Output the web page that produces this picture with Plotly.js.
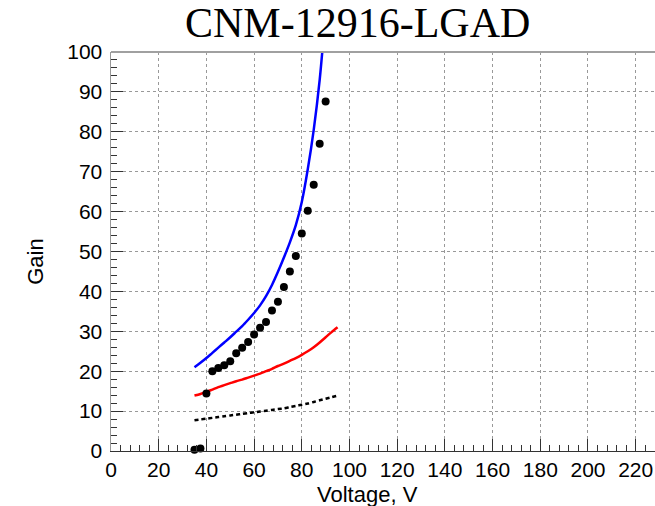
<!DOCTYPE html>
<html>
<head>
<meta charset="utf-8">
<script src="https://cdn.plot.ly/plotly-3.0.1.min.js"></script>
<style>html,body{margin:0;padding:0;background:#fff;}#chart{width:655px;height:506px;}</style>
</head>
<body>
<div id="chart"></div>
<script>
// Measured gain (black points)
const dataVoltage = [35, 37.5, 40, 42.5, 45, 47.5, 50, 52.5, 55, 57.5, 60, 62.5, 65, 67.5, 70, 72.5, 75, 77.5, 80, 82.5, 85, 87.5, 90];
const dataGain = [0.3, 0.6, 14.4, 20.0, 20.8, 21.5, 22.5, 24.5, 25.9, 27.3, 29.2, 30.9, 32.3, 35.2, 37.4, 41.1, 45.0, 48.9, 54.5, 60.2, 66.7, 77.0, 87.6];

// Blue curve
const blueVoltage = [35, 37.5, 40, 42.5, 45, 47.5, 50, 52.5, 55, 57.5, 60, 62.5, 65, 67.5, 70, 72.5, 75, 77.5, 80, 82.5, 85, 87.5, 90];
const blueGain = [21.0, 22.1, 23.3, 24.6, 25.9, 27.2, 28.5, 29.9, 31.3, 32.9, 34.6, 36.5, 38.8, 41.6, 44.9, 48.5, 52.3, 56.6, 62.4, 70.6, 80.5, 93.0, 110.0];

// Red curve
const redVoltage = [35, 37.5, 40, 42.5, 45, 47.5, 50, 52.5, 55, 57.5, 60, 62.5, 65, 67.5, 70, 72.5, 75, 77.5, 80, 82.5, 85, 87.5, 90, 92.5, 95];
const redGain = [13.9, 14.3, 14.8, 15.4, 16.0, 16.5, 17.0, 17.5, 17.9, 18.4, 18.9, 19.4, 20.0, 20.6, 21.3, 21.9, 22.6, 23.3, 24.1, 25.0, 26.0, 27.2, 28.5, 29.8, 31.0];

// Black dotted curve
const dotVoltage = [35, 37.5, 40, 42.5, 45, 47.5, 50, 52.5, 55, 57.5, 60, 62.5, 65, 67.5, 70, 72.5, 75, 77.5, 80, 82.5, 85, 87.5, 90, 92.5, 94.5];
const dotGain = [7.7, 7.9, 8.1, 8.3, 8.5, 8.7, 8.9, 9.1, 9.3, 9.5, 9.7, 9.9, 10.1, 10.3, 10.5, 10.7, 11.0, 11.3, 11.6, 11.9, 12.3, 12.7, 13.1, 13.5, 13.8];

const xTickVals = [0, 20, 40, 60, 80, 100, 120, 140, 160, 180, 200, 220];
const yTickVals = [0, 10, 20, 30, 40, 50, 60, 70, 80, 90, 100];

const traces = [
  {x: blueVoltage, y: blueGain, mode: 'lines', line: {color: '#0000ff', width: 2.5, shape: 'spline', smoothing: 0.8}, hoverinfo: 'skip'},
  {x: redVoltage, y: redGain, mode: 'lines', line: {color: '#ff0000', width: 2.5, shape: 'spline', smoothing: 0.8}, hoverinfo: 'skip'},
  {x: dotVoltage, y: dotGain, mode: 'lines', line: {color: '#000000', width: 2.5, dash: '4px,3px', shape: 'spline', smoothing: 0.8}, hoverinfo: 'skip'},
  {x: dataVoltage, y: dataGain, mode: 'markers', cliponaxis: false, marker: {color: '#000000', size: 8}}
];

const tickFont = {family: 'Liberation Sans, Arial, sans-serif', size: 21, color: '#000'};

const layout = {
  width: 655, height: 506,
  margin: {l: 111, r: 0, t: 52, b: 55},
  paper_bgcolor: '#fff', plot_bgcolor: '#fff',
  showlegend: false,
  xaxis: {
    range: [0, 228.1], tickvals: xTickVals, ticktext: xTickVals.map(String),
    ticks: 'inside', ticklen: 12, tickwidth: 1, tickcolor: '#333',
    showline: true, linecolor: '#333', linewidth: 1,
    showgrid: true, gridcolor: '#999', griddash: 'dot', gridwidth: 1,
    zeroline: false, tickfont: tickFont, ticklabelstandoff: 0,
    minor: {dtick: 4, tick0: 0, ticks: 'inside', ticklen: 6, tickcolor: '#333', showgrid: false}
  },
  yaxis: {
    range: [0, 100], tickvals: yTickVals, ticktext: yTickVals.map(String),
    ticks: 'inside', ticklen: 12, tickwidth: 1, tickcolor: '#333',
    showline: true, linecolor: '#999', linewidth: 1.5,
    showgrid: true, gridcolor: '#999', griddash: 'dot', gridwidth: 1,
    zeroline: false, tickfont: tickFont, ticklabelstandoff: 3,
    minor: {dtick: 2, tick0: 0, ticks: 'inside', ticklen: 6, tickcolor: '#333', showgrid: false}
  },
  shapes: [
    {type: 'line', xref: 'paper', yref: 'paper', x0: 0, x1: 1, y0: 1, y1: 1, line: {color: '#a0a0a0', width: 2}}
  ],
  annotations: [
    {text: 'CNM-12916-LGAD', xref: 'paper', yref: 'paper', x: 0.453, y: 1.0715, xanchor: 'center', yanchor: 'middle', showarrow: false,
     font: {family: 'Liberation Serif, Times New Roman, serif', size: 42, color: '#000'}},
    {text: 'Voltage, V', xref: 'paper', yref: 'paper', x: (367 - 111) / 544, y: (451 - 494) / 398.5, xanchor: 'center', yanchor: 'middle', showarrow: false,
     font: {family: 'Liberation Sans, Arial, sans-serif', size: 22, color: '#000'}},
    {text: 'Gain', xref: 'paper', yref: 'paper', x: (36 - 111) / 544, y: (451 - 262) / 398.5, xanchor: 'center', yanchor: 'middle', textangle: -90, showarrow: false,
     font: {family: 'Liberation Sans, Arial, sans-serif', size: 22, color: '#000'}}
  ]
};

Plotly.newPlot('chart', traces, layout, {staticPlot: true, displayModeBar: false});
</script>
</body>
</html>
